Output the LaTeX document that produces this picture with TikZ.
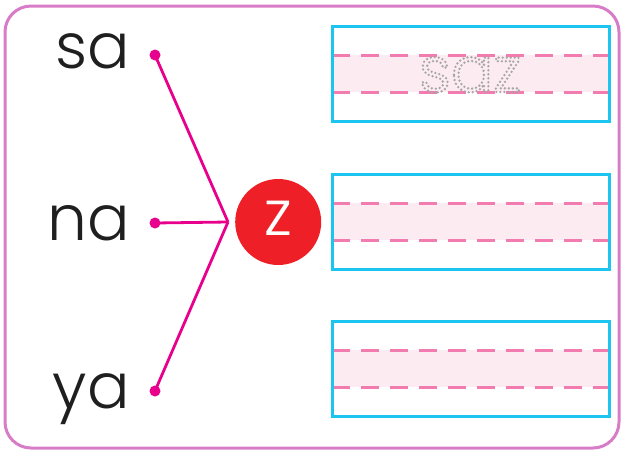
\documentclass[tikz,border=0pt]{standalone}
\usepackage{fontspec}
\setmainfont{Poppins}[UprightFont=* Light]
\usepackage{tikz}
\usetikzlibrary{positioning}

\definecolor{framepink}{RGB}{216,124,200}
\definecolor{linkpink}{RGB}{232,0,140}
\definecolor{zred}{RGB}{238,31,38}
\definecolor{boxcyan}{RGB}{28,196,240}
\definecolor{dashpink}{RGB}{242,124,176}
\definecolor{bandpink}{RGB}{253,235,242}

% dotted outline text for tracing
\newcommand{\tracetext}[1]{\special{pdf:literal direct q 1 Tr 1 J 1 j [0 4] 0 d 2.6 w}#1\special{pdf:literal direct 0 Tr Q}}

\tikzset{
    syll/.style={anchor=base east, inner sep=0pt, font=\fontsize{63}{63}\selectfont, text=black!88},
    dot/.style={circle, fill=linkpink, inner sep=0pt, minimum size=11pt},
    link/.style={linkpink, line width=2.8pt},
    writebox/.style={boxcyan, line width=3pt},
    guide/.style={dashpink, line width=3pt, dash pattern=on 18pt off 11pt}
}

\begin{document}
\begin{tikzpicture}[x=1pt,y=-1pt]
        \useasboundingbox (0,0) rectangle (622,453);
        \draw[framepink, line width=3pt, rounded corners=26pt] (5,6) rectangle (619,448); % outer frame

        % the three syllables with their dots
        \node[syll] (sa) at (130,68) {sa};
        \node[syll] (na) at (130,240) {na};
        \node[syll] (ya) at (130,408) {ya};
        \node[dot] (dsa) at (155,55) {};
        \node[dot] (dna) at (155,223) {};
        \node[dot] (dya) at (155,391) {};
        \coordinate (join) at (228,222);
        \foreach \s in {dsa,dna,dya}{
            \draw[link] (\s.center) -- (join);
        }

        % the letter to be joined
        \node[circle, fill=zred, minimum size=86pt, inner sep=0pt, right=7pt of join,
              text=white, font=\fontsize{63}{63}\selectfont] (z) {\raisebox{8pt}{z}};

        % writing boxes with guide lines
        \foreach \y in {26,174,321}{
            \fill[bandpink] (332,\y+29) rectangle (609,\y+66);
            \draw[guide] (332,\y+29) -- (609,\y+29);
            \draw[guide] (332,\y+66) -- (609,\y+66);
            \draw[writebox] (332,\y) rectangle (609,\y+95);
        }
        \node[anchor=base, inner sep=0pt, text=black!35, font=\fontsize{63}{63}\selectfont] (saz) at (470,92) {\tracetext{saz}};
    \end{tikzpicture}
\end{document}
